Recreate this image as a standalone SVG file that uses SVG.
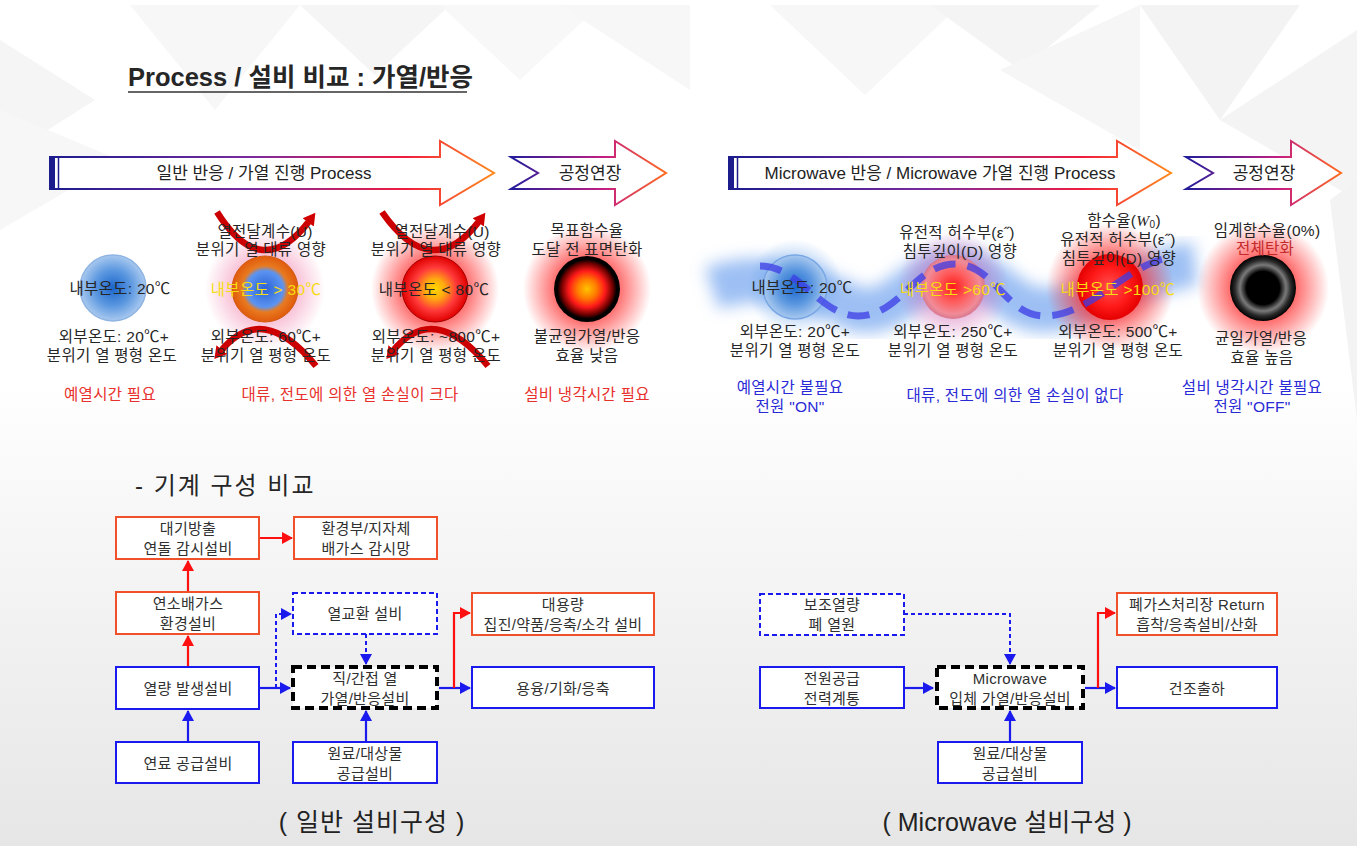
<svg xmlns="http://www.w3.org/2000/svg" width="1357" height="846" viewBox="0 0 1357 846">
  <style>
    text { font-family: "Liberation Sans", "Noto Sans CJK KR", sans-serif; fill: #262626; }
    .lbl { font-size: 15.5px; letter-spacing: 0.3px; text-anchor: middle; dominant-baseline: central; }
    .box { font-size: 15px; letter-spacing: 0.3px; text-anchor: middle; dominant-baseline: central; fill: #303030; }
    .red-t { fill: #e8302c; }
    .blue-t { fill: #2a2ad6; }
    .yel { fill: #f6dc10; }
    .arrow-t { font-size: 17px; text-anchor: middle; dominant-baseline: central; fill: #222; }
    .bx-red { fill: #fff; stroke: #f0502a; stroke-width: 2; }
    .bx-blue { fill: #fff; stroke: #1a1aee; stroke-width: 2; }
    .bx-dash { fill: #fff; stroke: #1a1aee; stroke-width: 2; stroke-dasharray: 5 3; }
    .bx-core { fill: #fff; stroke: #000; stroke-width: 4; stroke-dasharray: 9 5; }
    .c-red { fill: none; stroke: #ff1010; stroke-width: 2.2; }
    .c-blue { fill: none; stroke: #1a1aee; stroke-width: 2.2; }
    .c-dash { fill: none; stroke: #1a1aee; stroke-width: 2; stroke-dasharray: 4 3; }
    .arc { fill: none; stroke: #cc0000; stroke-width: 6.5; }
    .cap { font-size: 25px; text-anchor: middle; fill: #222; }
  </style>
  <defs>
    <linearGradient id="bgLow" x1="0" y1="380" x2="0" y2="846" gradientUnits="userSpaceOnUse">
      <stop offset="0" stop-color="#ffffff"/>
      <stop offset="0.25" stop-color="#f8f8f8"/>
      <stop offset="1" stop-color="#e6e6e6"/>
    </linearGradient>
    <linearGradient id="gArrowL" x1="50" y1="0" x2="494" y2="0" gradientUnits="userSpaceOnUse">
      <stop offset="0" stop-color="#1c1c8c"/>
      <stop offset="0.45" stop-color="#7a2aa0"/>
      <stop offset="0.8" stop-color="#f01c40"/>
      <stop offset="1" stop-color="#ff8a1c"/>
    </linearGradient>
    <linearGradient id="gChevL" x1="511" y1="0" x2="666" y2="0" gradientUnits="userSpaceOnUse">
      <stop offset="0" stop-color="#221c9a"/>
      <stop offset="0.6" stop-color="#c41e82"/>
      <stop offset="1" stop-color="#ff6a1c"/>
    </linearGradient>
    <linearGradient id="gArrowR" x1="729" y1="0" x2="1171" y2="0" gradientUnits="userSpaceOnUse">
      <stop offset="0" stop-color="#1c1c8c"/>
      <stop offset="0.45" stop-color="#7a2aa0"/>
      <stop offset="0.8" stop-color="#f01c40"/>
      <stop offset="1" stop-color="#ff8a1c"/>
    </linearGradient>
    <linearGradient id="gChevR" x1="1186" y1="0" x2="1341" y2="0" gradientUnits="userSpaceOnUse">
      <stop offset="0" stop-color="#221c9a"/>
      <stop offset="0.6" stop-color="#c41e82"/>
      <stop offset="1" stop-color="#ff6a1c"/>
    </linearGradient>

    <!-- sphere fills -->
    <radialGradient id="sBlue">
      <stop offset="0" stop-color="#1a66cc"/>
      <stop offset="0.55" stop-color="#5c98e0"/>
      <stop offset="1" stop-color="#a9c9ef"/>
    </radialGradient>
    <radialGradient id="sOrange">
      <stop offset="0" stop-color="#2a62d4"/>
      <stop offset="0.55" stop-color="#5b94f0"/>
      <stop offset="0.7" stop-color="#e87a20"/>
      <stop offset="1" stop-color="#e05a0c"/>
    </radialGradient>
    <radialGradient id="sHot">
      <stop offset="0" stop-color="#ffd800"/>
      <stop offset="0.3" stop-color="#ffaa10"/>
      <stop offset="0.65" stop-color="#ff3a3a"/>
      <stop offset="1" stop-color="#e00000"/>
    </radialGradient>
    <radialGradient id="sBurnt">
      <stop offset="0" stop-color="#ffc400"/>
      <stop offset="0.3" stop-color="#ff7a00"/>
      <stop offset="0.55" stop-color="#ff1a1a"/>
      <stop offset="0.78" stop-color="#700000"/>
      <stop offset="0.9" stop-color="#000"/>
      <stop offset="1" stop-color="#000"/>
    </radialGradient>
    <radialGradient id="sMw1">
      <stop offset="0" stop-color="#ff1a1a"/>
      <stop offset="0.45" stop-color="#ff5a5a"/>
      <stop offset="0.85" stop-color="#f08c98"/>
      <stop offset="1" stop-color="#d87890"/>
    </radialGradient>
    <radialGradient id="sMw2">
      <stop offset="0" stop-color="#ff5050"/>
      <stop offset="0.6" stop-color="#ff1a1a"/>
      <stop offset="1" stop-color="#e40000"/>
    </radialGradient>
    <radialGradient id="sChar">
      <stop offset="0" stop-color="#000"/>
      <stop offset="0.5" stop-color="#000"/>
      <stop offset="0.7" stop-color="#7a7a7a"/>
      <stop offset="0.85" stop-color="#2a2a2a"/>
      <stop offset="1" stop-color="#000"/>
    </radialGradient>

    <!-- glows -->
    <radialGradient id="glowPink">
      <stop offset="0.45" stop-color="#f07aa8" stop-opacity="0.55"/>
      <stop offset="1" stop-color="#f07aa8" stop-opacity="0"/>
    </radialGradient>
    <radialGradient id="glowRed">
      <stop offset="0.45" stop-color="#ff2a2a" stop-opacity="0.75"/>
      <stop offset="1" stop-color="#ff2a2a" stop-opacity="0"/>
    </radialGradient>
    <radialGradient id="glowPurple">
      <stop offset="0.45" stop-color="#d060b0" stop-opacity="0.5"/>
      <stop offset="1" stop-color="#d060b0" stop-opacity="0"/>
    </radialGradient>
    <radialGradient id="glowBlue">
      <stop offset="0.3" stop-color="#5a9ae8" stop-opacity="0.55"/>
      <stop offset="1" stop-color="#5a9ae8" stop-opacity="0"/>
    </radialGradient>
    <filter id="soft" x="-30%" y="-60%" width="160%" height="220%">
      <feGaussianBlur stdDeviation="8"/>
    </filter>

    <marker id="mRed" markerWidth="12" markerHeight="12" refX="10" refY="6" orient="auto" markerUnits="userSpaceOnUse">
      <path d="M0,0 L11,6 L0,12 z" fill="#ff1010"/>
    </marker>
    <marker id="mBlue" markerWidth="12" markerHeight="12" refX="10" refY="6" orient="auto" markerUnits="userSpaceOnUse">
      <path d="M0,0 L11,6 L0,12 z" fill="#1a1aee"/>
    </marker>
    <marker id="mArc" markerWidth="16" markerHeight="16" refX="3" refY="8" orient="auto" markerUnits="userSpaceOnUse">
      <path d="M0,1 L12,8 L0,15 z" fill="#d00000"/>
    </marker>
  </defs>

  <!-- background -->
  <rect x="0" y="0" width="1357" height="846" fill="#fff"/>
  <rect x="0" y="380" width="1357" height="466" fill="url(#bgLow)"/>
  <g id="facets">
    <polygon points="0,40 95,100 0,160" fill="#f5f5f5"/>
    <polygon points="130,5 300,5 215,110" fill="#f7f7f7"/>
    <polygon points="300,5 450,5 375,75" fill="#f5f5f5"/>
    <polygon points="440,5 600,5 520,80" fill="#f8f8f8"/>
    <polygon points="0,110 120,160 0,230" fill="#f7f7f7"/>
    <polygon points="560,5 690,5 690,90" fill="#f7f7f7"/>
    <polygon points="770,5 960,5 865,95" fill="#f7f7f7"/>
    <polygon points="930,5 1100,5 1020,70" fill="#f4f4f4"/>
    <polygon points="1000,70 1140,5 1140,150" fill="#f6f6f6"/>
    <polygon points="1140,5 1300,5 1220,120" fill="#f3f3f3"/>
    <polygon points="1220,120 1357,30 1357,200" fill="#f4f4f4"/>
    <polygon points="1330,200 1357,180 1357,420" fill="#f3f3f3"/>
  </g>

  <!-- heading -->
  <text x="128" y="86" font-size="25.5" font-weight="bold" fill="#2a2a2a" font-family="Noto Sans CJK KR, sans-serif">Process / 설비 비교 : 가열/반응</text>
  <line x1="128" y1="92" x2="467" y2="92" stroke="#333" stroke-width="1.6"/>

  <!-- process arrows -->
  <g id="arrow-conventional">
    <polygon points="50,157 440,157 440,141 494,173 440,205 440,189 50,189" fill="#fff" stroke="url(#gArrowL)" stroke-width="2"/>
    <rect x="50" y="157" width="5" height="32" fill="#1c1c8c"/>
    <line x1="58.5" y1="157" x2="58.5" y2="189" stroke="#1c1c8c" stroke-width="1.5"/>
    <text class="arrow-t" x="264" y="173">일반 반응 / 가열 진행 Process</text>
  </g>
  <g id="chevron-conventional">
    <polygon points="511,157 615,157 615,141 666,173 615,205 615,189 511,189 538,173" fill="#fff" stroke="url(#gChevL)" stroke-width="2"/>
    <text class="arrow-t" x="590" y="173">공정연장</text>
  </g>
  <g id="arrow-microwave">
    <polygon points="729,157 1117,157 1117,141 1171,173 1117,205 1117,189 729,189" fill="#fff" stroke="url(#gArrowR)" stroke-width="2"/>
    <rect x="729" y="157" width="5" height="32" fill="#1c1c8c"/>
    <line x1="737.5" y1="157" x2="737.5" y2="189" stroke="#1c1c8c" stroke-width="1.5"/>
    <text class="arrow-t" x="940" y="173">Microwave 반응 / Microwave 가열 진행 Process</text>
  </g>
  <g id="chevron-microwave">
    <polygon points="1186,157 1291,157 1291,141 1341,173 1291,205 1291,189 1186,189 1213,173" fill="#fff" stroke="url(#gChevR)" stroke-width="2"/>
    <text class="arrow-t" x="1264" y="173">공정연장</text>
  </g>

  <!-- conventional heating stages -->
  <g id="stage-c1">
    <circle cx="113" cy="288" r="33" fill="url(#sBlue)" stroke="#8fb4e4" stroke-width="1.5"/>
    <text class="lbl" x="120" y="288" font-size="14.5">내부온도: 20℃</text>
    <text class="lbl" x="114" y="336">외부온도: 20℃+<tspan x="112" dy="19">분위기 열 평형 온도</tspan></text>
    <text class="lbl red-t" x="110" y="394">예열시간 필요</text>
  </g>
  <g id="stage-c2">
    <circle cx="265" cy="289" r="60" fill="url(#glowPink)"/>
    <circle cx="265" cy="289" r="33" fill="url(#sOrange)" stroke="#d05a10" stroke-width="1"/>
    <path class="arc" d="M217,212 Q262,284 310,220" marker-end="url(#mArc)"/>
    <path class="arc" d="M316,366 Q262,300 220,352" marker-end="url(#mArc)"/>
    <text class="lbl" x="265" y="231">열전달계수(U)<tspan x="261" dy="18">분위기 열 대류 영향</tspan></text>
    <text class="lbl yel" x="266" y="289">내부온도 &gt; 30℃</text>
    <text class="lbl" x="266" y="336">외부온도: 60℃+<tspan x="266" dy="19">분위기 열 평형 온도</tspan></text>
  </g>
  <g id="stage-c3">
    <circle cx="435" cy="289" r="64" fill="url(#glowRed)"/>
    <circle cx="435" cy="289" r="33" fill="url(#sHot)" stroke="#a00000" stroke-width="1"/>
    <path class="arc" d="M382,212 Q432,284 480,220" marker-end="url(#mArc)"/>
    <path class="arc" d="M488,366 Q434,300 392,352" marker-end="url(#mArc)"/>
    <text class="lbl" x="442" y="231">열전달계수(U)<tspan x="436" dy="18">분위기 열 대류 영향</tspan></text>
    <text class="lbl" x="434" y="289" fill="#ffc400">내부온도 &lt; 80℃</text>
    <text class="lbl" x="436" y="336">외부온도: ~800℃+<tspan x="436" dy="19">분위기 열 평형 온도</tspan></text>
  </g>
  <text class="lbl red-t" x="350" y="394">대류, 전도에 의한 열 손실이 크다</text>
  <g id="stage-c4">
    <circle cx="587" cy="289" r="64" fill="url(#glowRed)"/>
    <circle cx="587" cy="289" r="33" fill="url(#sBurnt)"/>
    <text class="lbl" x="587" y="230">목표함수율<tspan x="587" dy="19">도달 전 표면탄화</tspan></text>
    <text class="lbl" x="587" y="336">불균일가열/반응<tspan x="587" dy="19">효율 낮음</tspan></text>
    <text class="lbl red-t" x="587" y="394">설비 냉각시간 필요</text>
  </g>

  <!-- microwave heating stages -->
  <g id="mw-field">
    <path d="M712,288 C760,272 800,282 858,310 C900,316 915,270 955,270 C995,270 1005,310 1045,310 C1090,310 1140,270 1195,264" fill="none" stroke="#5a94ec" stroke-opacity="0.6" stroke-width="44" filter="url(#soft)"/>
  </g>
  <g id="stage-m1">
    <circle cx="795" cy="287" r="48" fill="url(#glowBlue)"/>
    <circle cx="795" cy="287" r="32" fill="url(#sBlue)" stroke="#7aa8e4" stroke-width="1.5"/>
  </g>
  <g id="stage-m2">
    <circle cx="953" cy="287" r="56" fill="url(#glowPurple)"/>
    <circle cx="953" cy="287" r="32" fill="url(#sMw1)"/>
  </g>
  <g id="stage-m3">
    <circle cx="1110" cy="287" r="64" fill="url(#glowRed)"/>
    <circle cx="1110" cy="287" r="33" fill="url(#sMw2)"/>
  </g>
  <g id="stage-m4">
    <circle cx="1263" cy="288" r="66" fill="url(#glowRed)"/>
    <circle cx="1263" cy="288" r="33" fill="url(#sChar)"/>
  </g>
  <path id="mw-wave" d="M760,266 C800,266 820,316 858,316 C900,316 915,264 955,264 C995,264 1005,316 1045,316 C1090,316 1130,262 1170,258" fill="none" stroke="#3c3ce6" stroke-opacity="0.75" stroke-width="7" stroke-dasharray="22 12"/>
  <g id="mw-labels">
    <text class="lbl" x="802" y="287" font-size="14.5">내부온도: 20℃</text>
    <text class="lbl" x="795" y="331">외부온도: 20℃+<tspan x="795" dy="19">분위기 열 평형 온도</tspan></text>
    <text class="lbl blue-t" x="790" y="387">예열시간 불필요<tspan x="790" dy="19">전원 "ON"</tspan></text>

    <text class="lbl" x="957" y="232">유전적 허수부(ε˝)<tspan x="960" dy="19">침투깊이(D) 영향</tspan></text>
    <text class="lbl yel" x="953" y="289">내부온도 &gt;60℃</text>
    <text class="lbl" x="953" y="331">외부온도: 250℃+<tspan x="953" dy="19">분위기 열 평형 온도</tspan></text>
    <text class="lbl blue-t" x="1015" y="395">대류, 전도에 의한 열 손실이 없다</text>

    <text class="lbl" x="1124" y="220">함수율(<tspan font-style="italic" font-family="Liberation Serif, serif">W</tspan><tspan font-size="10" dy="4">0</tspan><tspan dy="-4">)</tspan><tspan x="1118" dy="19">유전적 허수부(ε˝)</tspan><tspan x="1119" dy="19">침투깊이(D) 영향</tspan></text>
    <text class="lbl yel" x="1118" y="289">내부온도 &gt;100℃</text>
    <text class="lbl" x="1118" y="331">외부온도: 500℃+<tspan x="1118" dy="19">분위기 열 평형 온도</tspan></text>

    <text class="lbl" x="1267" y="230">임계함수율(0%)<tspan x="1265" dy="18" fill="#c42a2a">전체탄화</tspan></text>
    <text class="lbl" x="1261" y="338">균일가열/반응<tspan x="1262" dy="19">효율 높음</tspan></text>
    <text class="lbl blue-t" x="1252" y="387">설비 냉각시간 불필요<tspan x="1252" dy="19">전원 "OFF"</tspan></text>
  </g>

  <!-- equipment comparison -->
  <text x="135" y="494" font-size="24" letter-spacing="2" fill="#2a2a2a">- 기계 구성 비교</text>

  <g id="connectors">
    <path class="c-red" d="M188,667 V636" marker-end="url(#mRed)"/>
    <path class="c-red" d="M188,592 V561" marker-end="url(#mRed)"/>
    <path class="c-red" d="M259,538 H292" marker-end="url(#mRed)"/>
    <path class="c-blue" d="M188,742 V711" marker-end="url(#mBlue)"/>
    <path class="c-blue" d="M259,688 H290" marker-end="url(#mBlue)"/>
    <path class="c-dash" d="M276,688 V614 H291" marker-end="url(#mBlue)"/>
    <path class="c-dash" d="M366,634 V664" marker-end="url(#mBlue)"/>
    <path class="c-blue" d="M366,742 V711" marker-end="url(#mBlue)"/>
    <path class="c-blue" d="M439,688 H470" marker-end="url(#mBlue)"/>
    <path class="c-red" d="M454,688 V613 H470" marker-end="url(#mRed)"/>

    <path class="c-dash" d="M904,614 H1010 V664" marker-end="url(#mBlue)"/>
    <path class="c-blue" d="M904,688 H933" marker-end="url(#mBlue)"/>
    <path class="c-blue" d="M1010,742 V711" marker-end="url(#mBlue)"/>
    <path class="c-blue" d="M1085,688 H1115" marker-end="url(#mBlue)"/>
    <path class="c-red" d="M1098,688 V613 H1115" marker-end="url(#mRed)"/>
  </g>

  <g id="n-stack-monitor">
    <rect class="bx-red" x="116" y="517" width="143" height="42"/>
    <text class="box" x="188" y="528">대기방출<tspan x="188" dy="20">연돌 감시설비</tspan></text>
  </g>
  <g id="n-gov-monitor">
    <rect class="bx-red" x="294" y="517" width="143" height="42"/>
    <text class="box" x="366" y="528">환경부/지자체<tspan x="366" dy="20">배가스 감시망</tspan></text>
  </g>
  <g id="n-flue-gas">
    <rect class="bx-red" x="116" y="592" width="143" height="42"/>
    <text class="box" x="188" y="603">연소배가스<tspan x="188" dy="20">환경설비</tspan></text>
  </g>
  <g id="n-heat-exchanger">
    <rect class="bx-dash" x="293" y="593" width="144" height="41"/>
    <text class="box" x="365" y="613">열교환 설비</text>
  </g>
  <g id="n-large-capacity">
    <rect class="bx-red" x="472" y="593" width="182" height="42"/>
    <text class="box" x="563" y="604">대용량<tspan x="563" dy="20">집진/약품/응축/소각 설비</tspan></text>
  </g>
  <g id="n-heat-gen">
    <rect class="bx-blue" x="116" y="667" width="143" height="42"/>
    <text class="box" x="188" y="688">열량 발생설비</text>
  </g>
  <g id="n-direct-indirect">
    <rect class="bx-core" x="293" y="667" width="144" height="41"/>
    <text class="box" x="365" y="678">직/간접 열<tspan x="365" dy="20">가열/반응설비</tspan></text>
  </g>
  <g id="n-melt">
    <rect class="bx-blue" x="472" y="667" width="182" height="41"/>
    <text class="box" x="563" y="688">용융/기화/응축</text>
  </g>
  <g id="n-fuel">
    <rect class="bx-blue" x="116" y="742" width="143" height="41"/>
    <text class="box" x="188" y="763">연료 공급설비</text>
  </g>
  <g id="n-feed-a">
    <rect class="bx-blue" x="293" y="742" width="144" height="41"/>
    <text class="box" x="365" y="753">원료/대상물<tspan x="365" dy="20">공급설비</tspan></text>
  </g>

  <g id="n-waste-heat">
    <rect class="bx-dash" x="760" y="594" width="144" height="41"/>
    <text class="box" x="832" y="604">보조열량<tspan x="832" dy="20">폐 열원</tspan></text>
  </g>
  <g id="n-offgas">
    <rect class="bx-red" x="1117" y="593" width="160" height="42"/>
    <text class="box" x="1197" y="604">폐가스처리장 Return<tspan x="1197" dy="20">흡착/응축설비/산화</tspan></text>
  </g>
  <g id="n-power">
    <rect class="bx-blue" x="760" y="667" width="144" height="41"/>
    <text class="box" x="832" y="678">전원공급<tspan x="832" dy="20">전력계통</tspan></text>
  </g>
  <g id="n-microwave">
    <rect class="bx-core" x="937" y="667" width="146" height="41"/>
    <text class="box" x="1010" y="678">Microwave<tspan x="1010" dy="20">입체 가열/반응설비</tspan></text>
  </g>
  <g id="n-dry-out">
    <rect class="bx-blue" x="1117" y="667" width="160" height="41"/>
    <text class="box" x="1197" y="688">건조출하</text>
  </g>
  <g id="n-feed-b">
    <rect class="bx-blue" x="938" y="742" width="144" height="41"/>
    <text class="box" x="1010" y="753">원료/대상물<tspan x="1010" dy="20">공급설비</tspan></text>
  </g>

  <text class="cap" x="372" y="831" letter-spacing="1">( 일반 설비구성 )</text>
  <text class="cap" x="1007" y="831">( Microwave 설비구성 )</text>
</svg>
